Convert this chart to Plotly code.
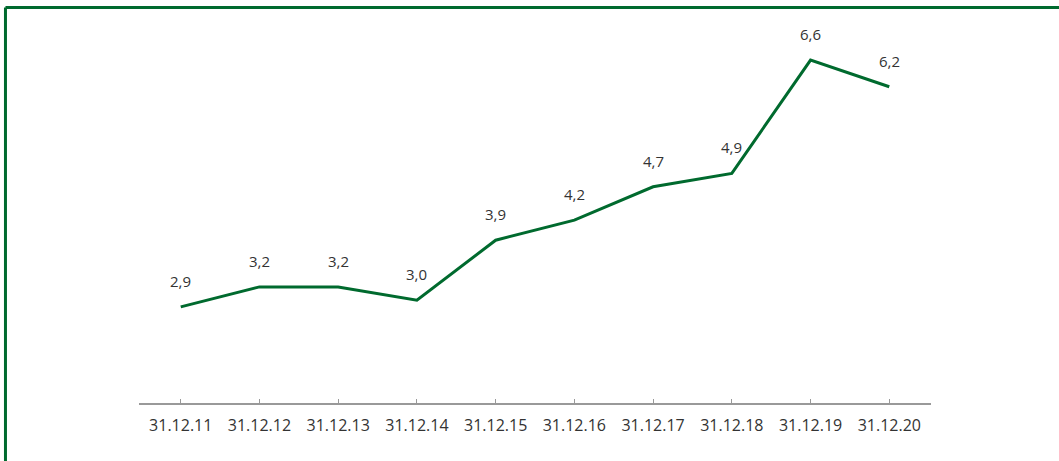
import plotly.graph_objects as go

dates = ["31.12.11", "31.12.12", "31.12.13", "31.12.14", "31.12.15",
         "31.12.16", "31.12.17", "31.12.18", "31.12.19", "31.12.20"]
values = [2.9, 3.2, 3.2, 3.0, 3.9, 4.2, 4.7, 4.9, 6.6, 6.2]
labels = [f"{v:.1f}".replace(".", ",") for v in values]

GREEN = "#006a2e"
FONT = "Open Sans"

fig = go.Figure()
fig.add_trace(go.Scatter(
    x=dates, y=values, mode="lines",
    line=dict(color=GREEN, width=3),
    hoverinfo="skip", showlegend=False,
))

for d, v, t in zip(dates, values, labels):
    fig.add_annotation(x=d, y=v, text=t, showarrow=False, yshift=26,
                       font=dict(size=15, color="#333333", family=FONT))

# frame lines (top and left)
fig.add_shape(type="line", xref="paper", yref="paper",
              x0=-0.1686, x1=1.3, y0=1.0326, y1=1.0326,
              line=dict(color=GREEN, width=3))
fig.add_shape(type="line", xref="paper", yref="paper",
              x0=-0.1686, x1=-0.1686, y0=-0.3, y1=1.0326,
              line=dict(color=GREEN, width=3))

fig.update_layout(
    width=1059, height=461,
    margin=dict(l=139, r=128, t=20, b=58),
    paper_bgcolor="white", plot_bgcolor="white",
    font=dict(family=FONT, color="#333333"),
    xaxis=dict(
        type="category", range=[-0.53, 9.53],
        showline=True, linecolor="#999999", linewidth=2,
        ticks="inside", ticklen=4, tickcolor="#999999", tickwidth=1,
        ticklabelstandoff=7,
        showgrid=False, zeroline=False,
        tickfont=dict(size=16, color="#333333", family=FONT),
    ),
    yaxis=dict(
        range=[1.46, 7.2], visible=False, showgrid=False, zeroline=False,
    ),
)

fig.write_html("out.html",
               config={"displayModeBar": False},
               post_script="document.body.style.margin='0';")
